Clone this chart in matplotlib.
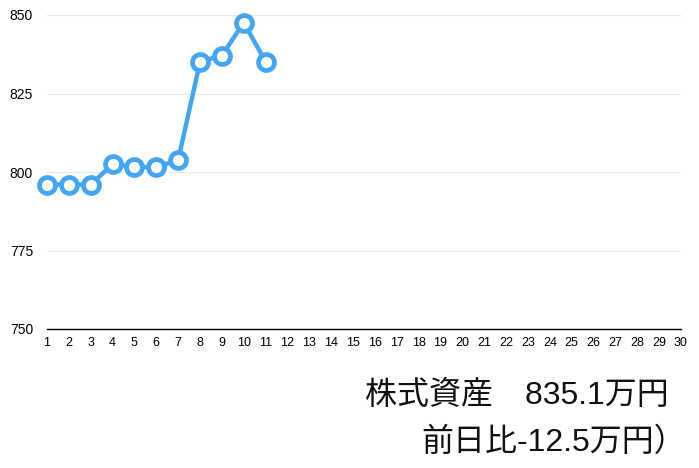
import matplotlib
matplotlib.use("Agg")
import matplotlib.pyplot as plt

days = list(range(1, 12))
values = [796.0, 796.0, 796.0, 802.5, 801.6, 801.6, 803.8, 835.1, 837.1, 847.6, 835.1]
x_ticks = list(range(1, 31))
y_ticks = [750, 775, 800, 825, 850]
line1 = "株式資産　835.1万円"
line2 = "前日比-12.5万円）"

plt.rcParams['font.family'] = ['Liberation Sans', 'Noto Sans CJK JP', 'DejaVu Sans']

fig = plt.figure(figsize=(6.99, 4.68), dpi=100)
ax = fig.add_axes([47/699, 1-329/468, (681-47)/699, (329-15)/468])
ax.plot(days, values, color='#42A5F5', lw=3.2, marker='o', ms=11.5,
        mfc='white', mec='#42A5F5', mew=3.4, zorder=3, clip_on=False)
ax.set_xlim(1, 30)
ax.set_ylim(750, 850)
ax.set_xticks(x_ticks)
ax.set_xticklabels([str(t) for t in x_ticks], fontsize=9, fontstretch='condensed')
ax.set_yticks(y_ticks)
ax.set_yticklabels([str(t) for t in y_ticks], fontsize=10)
ax.tick_params(length=0, pad=6)
ax.tick_params(axis='y', pad=10)
ax.grid(axis='y', color='#e6e6e6', lw=0.8)
for s in ['top', 'right', 'left']:
    ax.spines[s].set_visible(False)
ax.spines['bottom'].set_color('black')
ax.spines['bottom'].set_linewidth(1.0)
ax.set_axisbelow(True)

fig.text(669/699, 1-396/468, line1, ha='right', va='center', fontsize=23, color='#111111')
fig.text(686/699, 1-443/468, line2, ha='right', va='center', fontsize=23, color='#111111')

fig.savefig('out.png', dpi=100)
